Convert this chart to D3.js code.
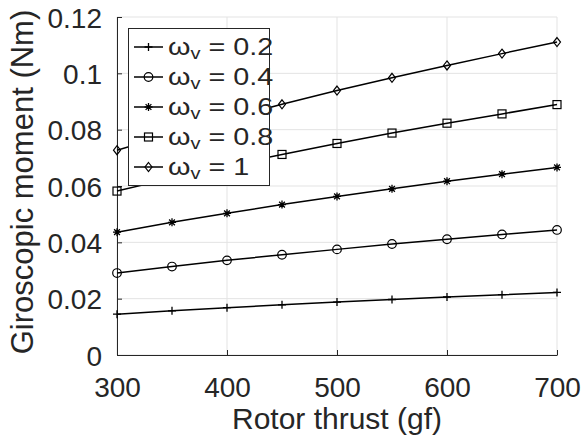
<!DOCTYPE html>
<html lang="en">
<head>
<meta charset="utf-8">
<title>Giroscopic moment</title>
<script src="https://cdn.jsdelivr.net/npm/d3@7"></script>
<style>
  html, body { margin: 0; padding: 0; background: #fff; }
  text { font-family: "Liberation Sans", Arial, sans-serif; fill: #262626; }
</style>
</head>
<body>
<script>
// data
const thrust = [300, 350, 400, 450, 500, 550, 600, 650, 700];
const omegaLabels = ["0.2", "0.4", "0.6", "0.8", "1"];
const w02 = [0.0145, 0.0157, 0.0168, 0.0178, 0.0188, 0.0197, 0.0206, 0.0214, 0.0222];
const w04 = [0.0291, 0.0314, 0.0336, 0.0356, 0.0375, 0.0394, 0.0411, 0.0428, 0.0444];
const w06 = [0.0436, 0.0471, 0.0503, 0.0534, 0.0563, 0.0590, 0.0617, 0.0642, 0.0666];
const w08 = [0.0582, 0.0628, 0.0672, 0.0712, 0.0751, 0.0788, 0.0823, 0.0856, 0.0889];
const w10 = [0.0727, 0.0785, 0.0839, 0.0890, 0.0939, 0.0984, 0.1028, 0.1070, 0.1111];
const xTicks = [300, 400, 500, 600, 700];
const yTicks = [0, 0.02, 0.04, 0.06, 0.08, 0.1, 0.12];
const markers = ["plus", "circle", "star", "square", "diamond"];

const allSeries = [w02, w04, w06, w08, w10];

let w = 582, h = 441;
let margin = {left: 117, right: 25, top: 17, bottom: 86};

let svg = d3.select("body").append("svg")
  .attr("width", w).attr("height", h);

let x = d3.scaleLinear().domain([300, 700]).range([margin.left, w - margin.right]);
let y = d3.scaleLinear().domain([0, 0.12]).range([h - margin.bottom, margin.top]);

// grid
svg.append("g").selectAll("line.vx").data(xTicks).enter().append("line")
  .attr("x1", d => x(d)).attr("x2", d => x(d))
  .attr("y1", y(0)).attr("y2", y(0.12))
  .attr("stroke", "#e3e3e3").attr("stroke-width", 1);
svg.append("g").selectAll("line.hy").data(yTicks).enter().append("line")
  .attr("x1", x(300)).attr("x2", x(700))
  .attr("y1", d => y(d)).attr("y2", d => y(d))
  .attr("stroke", "#e3e3e3").attr("stroke-width", 1);

// axes
let fmtY = d => d === 0 ? "0" : String(+d.toFixed(2));
let xAxis = d3.axisBottom(x).tickValues(xTicks).tickSizeInner(-5).tickSizeOuter(0).tickPadding(22);
let yAxis = d3.axisLeft(y).tickValues(yTicks).tickSizeInner(-5).tickSizeOuter(0).tickPadding(15).tickFormat(fmtY);

let gx = svg.append("g").attr("transform", "translate(0," + y(0) + ")").call(xAxis);
let gy = svg.append("g").attr("transform", "translate(" + x(300) + ",0)").call(yAxis);
[gx, gy].forEach(g => {
  g.select(".domain").attr("stroke", "#262626").attr("stroke-width", 1);
  g.selectAll(".tick line").attr("stroke", "#262626");
  g.selectAll(".tick text").attr("font-size", 28).attr("fill", "#262626")
    .attr("font-family", "Liberation Sans, Arial, sans-serif");
});
gy.selectAll(".tick text").attr("dy", "0.36em");

// axis titles
svg.append("text")
  .attr("x", (x(300) + x(700)) / 2).attr("y", 429)
  .attr("text-anchor", "middle").attr("font-size", 30)
  .text("Rotor thrust (gf)");
svg.append("text")
  .attr("transform", "translate(33," + 182 + ") rotate(-90)")
  .attr("text-anchor", "middle").attr("font-size", 31)
  .text("Giroscopic moment (Nm)");

// marker drawing
function drawMarker(g, type, cx, cy) {
  let s = 4;
  if (type === "plus") {
    g.append("path").attr("d", `M${cx - s},${cy}H${cx + s}M${cx},${cy - s}V${cy + s}`)
      .attr("stroke", "#000").attr("stroke-width", 1.3);
  } else if (type === "circle") {
    g.append("circle").attr("cx", cx).attr("cy", cy).attr("r", 4.3)
      .attr("fill", "none").attr("stroke", "#000").attr("stroke-width", 1.2);
  } else if (type === "star") {
    let d = s * 0.72;
    g.append("path").attr("d", `M${cx - s},${cy}H${cx + s}M${cx},${cy - s}V${cy + s}` +
      `M${cx - d},${cy - d}L${cx + d},${cy + d}M${cx - d},${cy + d}L${cx + d},${cy - d}`)
      .attr("stroke", "#000").attr("stroke-width", 1.3);
  } else if (type === "square") {
    g.append("rect").attr("x", cx - 4).attr("y", cy - 4).attr("width", 8).attr("height", 8)
      .attr("fill", "none").attr("stroke", "#000").attr("stroke-width", 1.2);
  } else if (type === "diamond") {
    g.append("path").attr("d", `M${cx},${cy - 4.5}L${cx + 3.5},${cy}L${cx},${cy + 4.5}L${cx - 3.5},${cy}Z`)
      .attr("fill", "none").attr("stroke", "#000").attr("stroke-width", 1.2);
  }
}

let line = d3.line().x(d => x(d[0])).y(d => y(d[1]));

allSeries.forEach((vals, i) => {
  let pts = thrust.map((t, j) => [t, vals[j]]);
  let g = svg.append("g");
  g.append("path").datum(pts).attr("d", line)
    .attr("fill", "none").attr("stroke", "#000").attr("stroke-width", 1.5);
  pts.forEach(p => drawMarker(g, markers[i], x(p[0]), y(p[1])));
});

// legend
let lg = svg.append("g");
lg.append("rect").attr("x", 128.5).attr("y", 28.5).attr("width", 141).attr("height", 157)
  .attr("fill", "#fff").attr("stroke", "#262626").attr("stroke-width", 1);
omegaLabels.forEach((lab, i) => {
  let cy = 47 + i * 30;
  lg.append("line").attr("x1", 134).attr("x2", 163).attr("y1", cy).attr("y2", cy)
    .attr("stroke", "#000").attr("stroke-width", 1.5);
  drawMarker(lg, markers[i], 148.5, cy);
  let t = lg.append("text")
    .attr("transform", "translate(168," + (cy + 8) + ") scale(1.25,1)")
    .attr("font-size", 23);
  t.append("tspan").text("ω");
  t.append("tspan").attr("font-size", 16).attr("dy", 4).text("v");
  t.append("tspan").attr("dy", -4).text(" = " + lab);
});
</script>
</body>
</html>
